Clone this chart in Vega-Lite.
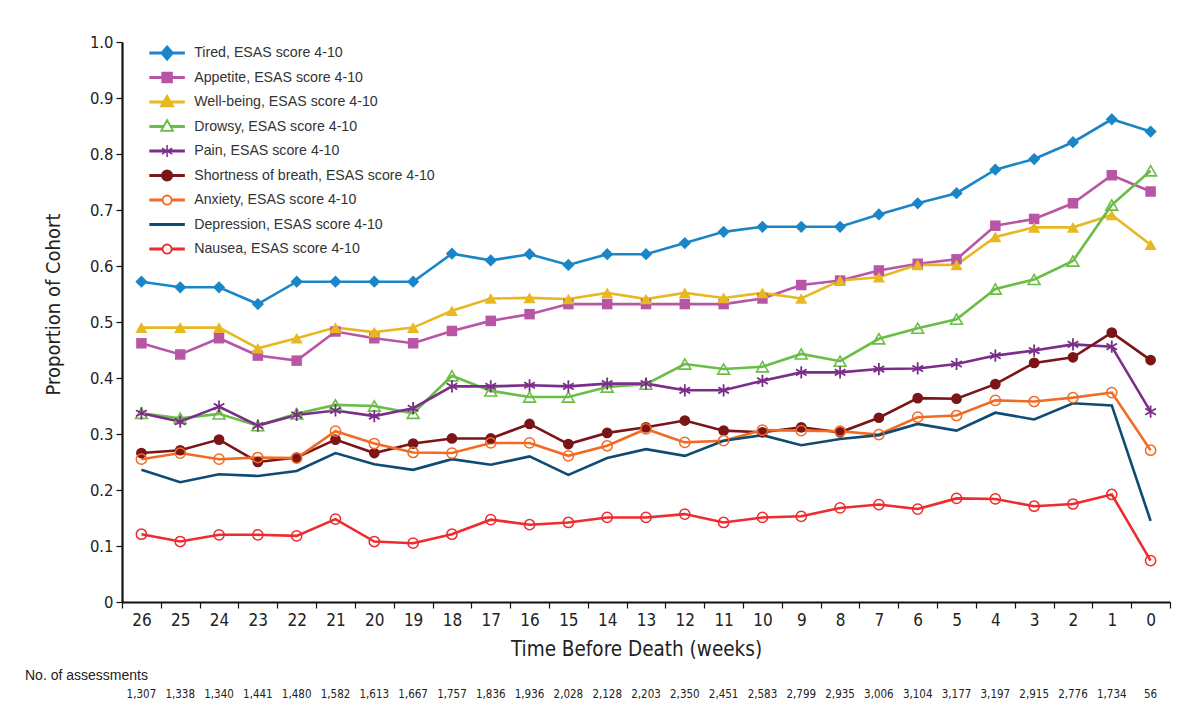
{
  "$schema": "https://vega.github.io/schema/vega-lite/v6.json",
  "padding": {"left": 25, "top": 34, "right": 8, "bottom": 4},
  "background": "white",
  "spacing": 9,
  "config": {
    "view": {"stroke": null},
    "axis": {"labelFont": "DejaVu Sans Condensed, Roboto, sans-serif", "titleFont": "DejaVu Sans Condensed, Roboto, sans-serif", "labelColor": "#222", "titleColor": "#222", "titleFontWeight": "normal", "domainColor": "#111", "tickColor": "#111", "grid": false}
  },
  "datasets": {
    "symptoms": [
      {"series": "Tired, ESAS score 4-10", "week": 26, "value": 0.572},
      {"series": "Tired, ESAS score 4-10", "week": 25, "value": 0.562},
      {"series": "Tired, ESAS score 4-10", "week": 24, "value": 0.562},
      {"series": "Tired, ESAS score 4-10", "week": 23, "value": 0.532},
      {"series": "Tired, ESAS score 4-10", "week": 22, "value": 0.572},
      {"series": "Tired, ESAS score 4-10", "week": 21, "value": 0.572},
      {"series": "Tired, ESAS score 4-10", "week": 20, "value": 0.572},
      {"series": "Tired, ESAS score 4-10", "week": 19, "value": 0.572},
      {"series": "Tired, ESAS score 4-10", "week": 18, "value": 0.622},
      {"series": "Tired, ESAS score 4-10", "week": 17, "value": 0.61},
      {"series": "Tired, ESAS score 4-10", "week": 16, "value": 0.621},
      {"series": "Tired, ESAS score 4-10", "week": 15, "value": 0.602},
      {"series": "Tired, ESAS score 4-10", "week": 14, "value": 0.621},
      {"series": "Tired, ESAS score 4-10", "week": 13, "value": 0.621},
      {"series": "Tired, ESAS score 4-10", "week": 12, "value": 0.641},
      {"series": "Tired, ESAS score 4-10", "week": 11, "value": 0.661},
      {"series": "Tired, ESAS score 4-10", "week": 10, "value": 0.67},
      {"series": "Tired, ESAS score 4-10", "week": 9, "value": 0.67},
      {"series": "Tired, ESAS score 4-10", "week": 8, "value": 0.67},
      {"series": "Tired, ESAS score 4-10", "week": 7, "value": 0.692},
      {"series": "Tired, ESAS score 4-10", "week": 6, "value": 0.712},
      {"series": "Tired, ESAS score 4-10", "week": 5, "value": 0.73},
      {"series": "Tired, ESAS score 4-10", "week": 4, "value": 0.772},
      {"series": "Tired, ESAS score 4-10", "week": 3, "value": 0.791},
      {"series": "Tired, ESAS score 4-10", "week": 2, "value": 0.821},
      {"series": "Tired, ESAS score 4-10", "week": 1, "value": 0.862},
      {"series": "Tired, ESAS score 4-10", "week": 0, "value": 0.84},
      {"series": "Appetite, ESAS score 4-10", "week": 26, "value": 0.462},
      {"series": "Appetite, ESAS score 4-10", "week": 25, "value": 0.442},
      {"series": "Appetite, ESAS score 4-10", "week": 24, "value": 0.471},
      {"series": "Appetite, ESAS score 4-10", "week": 23, "value": 0.44},
      {"series": "Appetite, ESAS score 4-10", "week": 22, "value": 0.431},
      {"series": "Appetite, ESAS score 4-10", "week": 21, "value": 0.483},
      {"series": "Appetite, ESAS score 4-10", "week": 20, "value": 0.471},
      {"series": "Appetite, ESAS score 4-10", "week": 19, "value": 0.462},
      {"series": "Appetite, ESAS score 4-10", "week": 18, "value": 0.484},
      {"series": "Appetite, ESAS score 4-10", "week": 17, "value": 0.502},
      {"series": "Appetite, ESAS score 4-10", "week": 16, "value": 0.514},
      {"series": "Appetite, ESAS score 4-10", "week": 15, "value": 0.532},
      {"series": "Appetite, ESAS score 4-10", "week": 14, "value": 0.532},
      {"series": "Appetite, ESAS score 4-10", "week": 13, "value": 0.532},
      {"series": "Appetite, ESAS score 4-10", "week": 12, "value": 0.532},
      {"series": "Appetite, ESAS score 4-10", "week": 11, "value": 0.532},
      {"series": "Appetite, ESAS score 4-10", "week": 10, "value": 0.542},
      {"series": "Appetite, ESAS score 4-10", "week": 9, "value": 0.566},
      {"series": "Appetite, ESAS score 4-10", "week": 8, "value": 0.574},
      {"series": "Appetite, ESAS score 4-10", "week": 7, "value": 0.592},
      {"series": "Appetite, ESAS score 4-10", "week": 6, "value": 0.604},
      {"series": "Appetite, ESAS score 4-10", "week": 5, "value": 0.612},
      {"series": "Appetite, ESAS score 4-10", "week": 4, "value": 0.672},
      {"series": "Appetite, ESAS score 4-10", "week": 3, "value": 0.684},
      {"series": "Appetite, ESAS score 4-10", "week": 2, "value": 0.712},
      {"series": "Appetite, ESAS score 4-10", "week": 1, "value": 0.762},
      {"series": "Appetite, ESAS score 4-10", "week": 0, "value": 0.733},
      {"series": "Well-being, ESAS score 4-10", "week": 26, "value": 0.49},
      {"series": "Well-being, ESAS score 4-10", "week": 25, "value": 0.49},
      {"series": "Well-being, ESAS score 4-10", "week": 24, "value": 0.49},
      {"series": "Well-being, ESAS score 4-10", "week": 23, "value": 0.453},
      {"series": "Well-being, ESAS score 4-10", "week": 22, "value": 0.471},
      {"series": "Well-being, ESAS score 4-10", "week": 21, "value": 0.49},
      {"series": "Well-being, ESAS score 4-10", "week": 20, "value": 0.482},
      {"series": "Well-being, ESAS score 4-10", "week": 19, "value": 0.49},
      {"series": "Well-being, ESAS score 4-10", "week": 18, "value": 0.52},
      {"series": "Well-being, ESAS score 4-10", "week": 17, "value": 0.542},
      {"series": "Well-being, ESAS score 4-10", "week": 16, "value": 0.543},
      {"series": "Well-being, ESAS score 4-10", "week": 15, "value": 0.541},
      {"series": "Well-being, ESAS score 4-10", "week": 14, "value": 0.552},
      {"series": "Well-being, ESAS score 4-10", "week": 13, "value": 0.541},
      {"series": "Well-being, ESAS score 4-10", "week": 12, "value": 0.552},
      {"series": "Well-being, ESAS score 4-10", "week": 11, "value": 0.543},
      {"series": "Well-being, ESAS score 4-10", "week": 10, "value": 0.552},
      {"series": "Well-being, ESAS score 4-10", "week": 9, "value": 0.542},
      {"series": "Well-being, ESAS score 4-10", "week": 8, "value": 0.574},
      {"series": "Well-being, ESAS score 4-10", "week": 7, "value": 0.58},
      {"series": "Well-being, ESAS score 4-10", "week": 6, "value": 0.602},
      {"series": "Well-being, ESAS score 4-10", "week": 5, "value": 0.602},
      {"series": "Well-being, ESAS score 4-10", "week": 4, "value": 0.652},
      {"series": "Well-being, ESAS score 4-10", "week": 3, "value": 0.669},
      {"series": "Well-being, ESAS score 4-10", "week": 2, "value": 0.669},
      {"series": "Well-being, ESAS score 4-10", "week": 1, "value": 0.691},
      {"series": "Well-being, ESAS score 4-10", "week": 0, "value": 0.638},
      {"series": "Drowsy, ESAS score 4-10", "week": 26, "value": 0.337},
      {"series": "Drowsy, ESAS score 4-10", "week": 25, "value": 0.328},
      {"series": "Drowsy, ESAS score 4-10", "week": 24, "value": 0.336},
      {"series": "Drowsy, ESAS score 4-10", "week": 23, "value": 0.315},
      {"series": "Drowsy, ESAS score 4-10", "week": 22, "value": 0.336},
      {"series": "Drowsy, ESAS score 4-10", "week": 21, "value": 0.352},
      {"series": "Drowsy, ESAS score 4-10", "week": 20, "value": 0.35},
      {"series": "Drowsy, ESAS score 4-10", "week": 19, "value": 0.337},
      {"series": "Drowsy, ESAS score 4-10", "week": 18, "value": 0.404},
      {"series": "Drowsy, ESAS score 4-10", "week": 17, "value": 0.377},
      {"series": "Drowsy, ESAS score 4-10", "week": 16, "value": 0.366},
      {"series": "Drowsy, ESAS score 4-10", "week": 15, "value": 0.366},
      {"series": "Drowsy, ESAS score 4-10", "week": 14, "value": 0.384},
      {"series": "Drowsy, ESAS score 4-10", "week": 13, "value": 0.389},
      {"series": "Drowsy, ESAS score 4-10", "week": 12, "value": 0.425},
      {"series": "Drowsy, ESAS score 4-10", "week": 11, "value": 0.416},
      {"series": "Drowsy, ESAS score 4-10", "week": 10, "value": 0.42},
      {"series": "Drowsy, ESAS score 4-10", "week": 9, "value": 0.443},
      {"series": "Drowsy, ESAS score 4-10", "week": 8, "value": 0.43},
      {"series": "Drowsy, ESAS score 4-10", "week": 7, "value": 0.47},
      {"series": "Drowsy, ESAS score 4-10", "week": 6, "value": 0.489},
      {"series": "Drowsy, ESAS score 4-10", "week": 5, "value": 0.505},
      {"series": "Drowsy, ESAS score 4-10", "week": 4, "value": 0.559},
      {"series": "Drowsy, ESAS score 4-10", "week": 3, "value": 0.576},
      {"series": "Drowsy, ESAS score 4-10", "week": 2, "value": 0.609},
      {"series": "Drowsy, ESAS score 4-10", "week": 1, "value": 0.709},
      {"series": "Drowsy, ESAS score 4-10", "week": 0, "value": 0.77},
      {"series": "Pain, ESAS score 4-10", "week": 26, "value": 0.337},
      {"series": "Pain, ESAS score 4-10", "week": 25, "value": 0.322},
      {"series": "Pain, ESAS score 4-10", "week": 24, "value": 0.349},
      {"series": "Pain, ESAS score 4-10", "week": 23, "value": 0.315},
      {"series": "Pain, ESAS score 4-10", "week": 22, "value": 0.334},
      {"series": "Pain, ESAS score 4-10", "week": 21, "value": 0.342},
      {"series": "Pain, ESAS score 4-10", "week": 20, "value": 0.332},
      {"series": "Pain, ESAS score 4-10", "week": 19, "value": 0.346},
      {"series": "Pain, ESAS score 4-10", "week": 18, "value": 0.385},
      {"series": "Pain, ESAS score 4-10", "week": 17, "value": 0.385},
      {"series": "Pain, ESAS score 4-10", "week": 16, "value": 0.387},
      {"series": "Pain, ESAS score 4-10", "week": 15, "value": 0.385},
      {"series": "Pain, ESAS score 4-10", "week": 14, "value": 0.39},
      {"series": "Pain, ESAS score 4-10", "week": 13, "value": 0.39},
      {"series": "Pain, ESAS score 4-10", "week": 12, "value": 0.378},
      {"series": "Pain, ESAS score 4-10", "week": 11, "value": 0.378},
      {"series": "Pain, ESAS score 4-10", "week": 10, "value": 0.395},
      {"series": "Pain, ESAS score 4-10", "week": 9, "value": 0.41},
      {"series": "Pain, ESAS score 4-10", "week": 8, "value": 0.41},
      {"series": "Pain, ESAS score 4-10", "week": 7, "value": 0.416},
      {"series": "Pain, ESAS score 4-10", "week": 6, "value": 0.417},
      {"series": "Pain, ESAS score 4-10", "week": 5, "value": 0.425},
      {"series": "Pain, ESAS score 4-10", "week": 4, "value": 0.44},
      {"series": "Pain, ESAS score 4-10", "week": 3, "value": 0.449},
      {"series": "Pain, ESAS score 4-10", "week": 2, "value": 0.46},
      {"series": "Pain, ESAS score 4-10", "week": 1, "value": 0.456},
      {"series": "Pain, ESAS score 4-10", "week": 0, "value": 0.34},
      {"series": "Shortness of breath, ESAS score 4-10", "week": 26, "value": 0.266},
      {"series": "Shortness of breath, ESAS score 4-10", "week": 25, "value": 0.271},
      {"series": "Shortness of breath, ESAS score 4-10", "week": 24, "value": 0.29},
      {"series": "Shortness of breath, ESAS score 4-10", "week": 23, "value": 0.25},
      {"series": "Shortness of breath, ESAS score 4-10", "week": 22, "value": 0.258},
      {"series": "Shortness of breath, ESAS score 4-10", "week": 21, "value": 0.29},
      {"series": "Shortness of breath, ESAS score 4-10", "week": 20, "value": 0.266},
      {"series": "Shortness of breath, ESAS score 4-10", "week": 19, "value": 0.283},
      {"series": "Shortness of breath, ESAS score 4-10", "week": 18, "value": 0.292},
      {"series": "Shortness of breath, ESAS score 4-10", "week": 17, "value": 0.292},
      {"series": "Shortness of breath, ESAS score 4-10", "week": 16, "value": 0.318},
      {"series": "Shortness of breath, ESAS score 4-10", "week": 15, "value": 0.282},
      {"series": "Shortness of breath, ESAS score 4-10", "week": 14, "value": 0.302},
      {"series": "Shortness of breath, ESAS score 4-10", "week": 13, "value": 0.312},
      {"series": "Shortness of breath, ESAS score 4-10", "week": 12, "value": 0.324},
      {"series": "Shortness of breath, ESAS score 4-10", "week": 11, "value": 0.306},
      {"series": "Shortness of breath, ESAS score 4-10", "week": 10, "value": 0.303},
      {"series": "Shortness of breath, ESAS score 4-10", "week": 9, "value": 0.312},
      {"series": "Shortness of breath, ESAS score 4-10", "week": 8, "value": 0.303},
      {"series": "Shortness of breath, ESAS score 4-10", "week": 7, "value": 0.329},
      {"series": "Shortness of breath, ESAS score 4-10", "week": 6, "value": 0.364},
      {"series": "Shortness of breath, ESAS score 4-10", "week": 5, "value": 0.363},
      {"series": "Shortness of breath, ESAS score 4-10", "week": 4, "value": 0.389},
      {"series": "Shortness of breath, ESAS score 4-10", "week": 3, "value": 0.427},
      {"series": "Shortness of breath, ESAS score 4-10", "week": 2, "value": 0.437},
      {"series": "Shortness of breath, ESAS score 4-10", "week": 1, "value": 0.481},
      {"series": "Shortness of breath, ESAS score 4-10", "week": 0, "value": 0.432},
      {"series": "Anxiety, ESAS score 4-10", "week": 26, "value": 0.255},
      {"series": "Anxiety, ESAS score 4-10", "week": 25, "value": 0.266},
      {"series": "Anxiety, ESAS score 4-10", "week": 24, "value": 0.255},
      {"series": "Anxiety, ESAS score 4-10", "week": 23, "value": 0.258},
      {"series": "Anxiety, ESAS score 4-10", "week": 22, "value": 0.257},
      {"series": "Anxiety, ESAS score 4-10", "week": 21, "value": 0.305},
      {"series": "Anxiety, ESAS score 4-10", "week": 20, "value": 0.283},
      {"series": "Anxiety, ESAS score 4-10", "week": 19, "value": 0.267},
      {"series": "Anxiety, ESAS score 4-10", "week": 18, "value": 0.266},
      {"series": "Anxiety, ESAS score 4-10", "week": 17, "value": 0.284},
      {"series": "Anxiety, ESAS score 4-10", "week": 16, "value": 0.284},
      {"series": "Anxiety, ESAS score 4-10", "week": 15, "value": 0.261},
      {"series": "Anxiety, ESAS score 4-10", "week": 14, "value": 0.279},
      {"series": "Anxiety, ESAS score 4-10", "week": 13, "value": 0.309},
      {"series": "Anxiety, ESAS score 4-10", "week": 12, "value": 0.285},
      {"series": "Anxiety, ESAS score 4-10", "week": 11, "value": 0.288},
      {"series": "Anxiety, ESAS score 4-10", "week": 10, "value": 0.307},
      {"series": "Anxiety, ESAS score 4-10", "week": 9, "value": 0.306},
      {"series": "Anxiety, ESAS score 4-10", "week": 8, "value": 0.305},
      {"series": "Anxiety, ESAS score 4-10", "week": 7, "value": 0.299},
      {"series": "Anxiety, ESAS score 4-10", "week": 6, "value": 0.33},
      {"series": "Anxiety, ESAS score 4-10", "week": 5, "value": 0.333},
      {"series": "Anxiety, ESAS score 4-10", "week": 4, "value": 0.36},
      {"series": "Anxiety, ESAS score 4-10", "week": 3, "value": 0.358},
      {"series": "Anxiety, ESAS score 4-10", "week": 2, "value": 0.365},
      {"series": "Anxiety, ESAS score 4-10", "week": 1, "value": 0.374},
      {"series": "Anxiety, ESAS score 4-10", "week": 0, "value": 0.271},
      {"series": "Depression, ESAS score 4-10", "week": 26, "value": 0.236},
      {"series": "Depression, ESAS score 4-10", "week": 25, "value": 0.214},
      {"series": "Depression, ESAS score 4-10", "week": 24, "value": 0.228},
      {"series": "Depression, ESAS score 4-10", "week": 23, "value": 0.225},
      {"series": "Depression, ESAS score 4-10", "week": 22, "value": 0.234},
      {"series": "Depression, ESAS score 4-10", "week": 21, "value": 0.266},
      {"series": "Depression, ESAS score 4-10", "week": 20, "value": 0.246},
      {"series": "Depression, ESAS score 4-10", "week": 19, "value": 0.236},
      {"series": "Depression, ESAS score 4-10", "week": 18, "value": 0.255},
      {"series": "Depression, ESAS score 4-10", "week": 17, "value": 0.245},
      {"series": "Depression, ESAS score 4-10", "week": 16, "value": 0.26},
      {"series": "Depression, ESAS score 4-10", "week": 15, "value": 0.227},
      {"series": "Depression, ESAS score 4-10", "week": 14, "value": 0.257},
      {"series": "Depression, ESAS score 4-10", "week": 13, "value": 0.273},
      {"series": "Depression, ESAS score 4-10", "week": 12, "value": 0.261},
      {"series": "Depression, ESAS score 4-10", "week": 11, "value": 0.288},
      {"series": "Depression, ESAS score 4-10", "week": 10, "value": 0.298},
      {"series": "Depression, ESAS score 4-10", "week": 9, "value": 0.28},
      {"series": "Depression, ESAS score 4-10", "week": 8, "value": 0.291},
      {"series": "Depression, ESAS score 4-10", "week": 7, "value": 0.298},
      {"series": "Depression, ESAS score 4-10", "week": 6, "value": 0.318},
      {"series": "Depression, ESAS score 4-10", "week": 5, "value": 0.306},
      {"series": "Depression, ESAS score 4-10", "week": 4, "value": 0.338},
      {"series": "Depression, ESAS score 4-10", "week": 3, "value": 0.326},
      {"series": "Depression, ESAS score 4-10", "week": 2, "value": 0.355},
      {"series": "Depression, ESAS score 4-10", "week": 1, "value": 0.351},
      {"series": "Depression, ESAS score 4-10", "week": 0, "value": 0.145},
      {"series": "Nausea, ESAS score 4-10", "week": 26, "value": 0.121},
      {"series": "Nausea, ESAS score 4-10", "week": 25, "value": 0.108},
      {"series": "Nausea, ESAS score 4-10", "week": 24, "value": 0.12},
      {"series": "Nausea, ESAS score 4-10", "week": 23, "value": 0.12},
      {"series": "Nausea, ESAS score 4-10", "week": 22, "value": 0.118},
      {"series": "Nausea, ESAS score 4-10", "week": 21, "value": 0.148},
      {"series": "Nausea, ESAS score 4-10", "week": 20, "value": 0.108},
      {"series": "Nausea, ESAS score 4-10", "week": 19, "value": 0.105},
      {"series": "Nausea, ESAS score 4-10", "week": 18, "value": 0.121},
      {"series": "Nausea, ESAS score 4-10", "week": 17, "value": 0.147},
      {"series": "Nausea, ESAS score 4-10", "week": 16, "value": 0.138},
      {"series": "Nausea, ESAS score 4-10", "week": 15, "value": 0.142},
      {"series": "Nausea, ESAS score 4-10", "week": 14, "value": 0.151},
      {"series": "Nausea, ESAS score 4-10", "week": 13, "value": 0.151},
      {"series": "Nausea, ESAS score 4-10", "week": 12, "value": 0.157},
      {"series": "Nausea, ESAS score 4-10", "week": 11, "value": 0.142},
      {"series": "Nausea, ESAS score 4-10", "week": 10, "value": 0.151},
      {"series": "Nausea, ESAS score 4-10", "week": 9, "value": 0.153},
      {"series": "Nausea, ESAS score 4-10", "week": 8, "value": 0.168},
      {"series": "Nausea, ESAS score 4-10", "week": 7, "value": 0.174},
      {"series": "Nausea, ESAS score 4-10", "week": 6, "value": 0.166},
      {"series": "Nausea, ESAS score 4-10", "week": 5, "value": 0.185},
      {"series": "Nausea, ESAS score 4-10", "week": 4, "value": 0.184},
      {"series": "Nausea, ESAS score 4-10", "week": 3, "value": 0.171},
      {"series": "Nausea, ESAS score 4-10", "week": 2, "value": 0.175},
      {"series": "Nausea, ESAS score 4-10", "week": 1, "value": 0.192},
      {"series": "Nausea, ESAS score 4-10", "week": 0, "value": 0.074}
    ],
    "assessments": [
      {"week": 26, "n": 1307}, {"week": 25, "n": 1338}, {"week": 24, "n": 1340}, {"week": 23, "n": 1441},
      {"week": 22, "n": 1480}, {"week": 21, "n": 1582}, {"week": 20, "n": 1613}, {"week": 19, "n": 1667},
      {"week": 18, "n": 1757}, {"week": 17, "n": 1836}, {"week": 16, "n": 1936}, {"week": 15, "n": 2028},
      {"week": 14, "n": 2128}, {"week": 13, "n": 2203}, {"week": 12, "n": 2350}, {"week": 11, "n": 2451},
      {"week": 10, "n": 2583}, {"week": 9, "n": 2799}, {"week": 8, "n": 2935}, {"week": 7, "n": 3006},
      {"week": 6, "n": 3104}, {"week": 5, "n": 3177}, {"week": 4, "n": 3197}, {"week": 3, "n": 2915},
      {"week": 2, "n": 2776}, {"week": 1, "n": 1734}, {"week": 0, "n": 56}
    ]
  },
  "vconcat": [
    {
      "width": 1048,
      "height": 560,
      "data": {"name": "symptoms"},
      "encoding": {
        "x": {
          "field": "week", "type": "ordinal",
          "scale": {"type": "band", "domain": [26,25,24,23,22,21,20,19,18,17,16,15,14,13,12,11,10,9,8,7,6,5,4,3,2,1,0], "paddingInner": 0, "paddingOuter": 0},
          "axis": {"title": "Time Before Death (weeks)", "titleFontSize": 20.5, "titlePadding": 11, "titleX": 514, "labelFontSize": 17, "labelAngle": 0, "labelPadding": 4, "tickBand": "extent", "tickSize": 6, "tickWidth": 1.2, "domainWidth": 2}
        },
        "y": {
          "field": "value", "type": "quantitative",
          "scale": {"domain": [0, 1], "nice": false},
          "axis": {"title": "Proportion of Cohort", "titleFontSize": 20, "titlePadding": 26, "titleY": 262, "labelFontSize": 16.5, "labelPadding": 3, "tickSize": 6, "tickWidth": 1.2, "domainWidth": 2.2, "values": [0, 0.1, 0.2, 0.3, 0.4, 0.5, 0.6, 0.7, 0.8, 0.9, 1.0], "labelExpr": "datum.value === 0 ? '0' : format(datum.value, '.1f')"}
        },
        "color": {
          "field": "series", "type": "nominal",
          "scale": {
            "domain": ["Tired, ESAS score 4-10", "Appetite, ESAS score 4-10", "Well-being, ESAS score 4-10", "Drowsy, ESAS score 4-10", "Pain, ESAS score 4-10", "Shortness of breath, ESAS score 4-10", "Anxiety, ESAS score 4-10", "Depression, ESAS score 4-10", "Nausea, ESAS score 4-10"],
            "range": ["#1a86c8", "#b955a5", "#e8b823", "#6abd45", "#7a2e8a", "#7b1517", "#f26b25", "#0f4a73", "#ee2b2e"]
          },
          "legend": {
            "orient": "none", "legendX": 38, "legendY": 4, "title": null, "padding": 0,
            "labelFont": "Liberation Sans", "labelFontSize": 14.2, "labelColor": "#333", "labelLimit": 400,
            "labelOffset": 20, "rowPadding": 0.5, "symbolSize": 100,
            "encode": {
              "symbols": {
                "update": {
                  "shape": {"signal": "['M0,-1.65L0,-1.65M0,1.65L0,1.65M-3.4,-0.15H3.4V0.15H-3.4ZM0,-1.4L1.2,0L0,1.4L-1.2,0Z', 'M0,-1.65L0,-1.65M0,1.65L0,1.65M-3.4,-0.15H3.4V0.15H-3.4ZM-1,-1H1V1H-1Z', 'M0,-1.65L0,-1.65M0,1.65L0,1.65M-3.4,-0.15H3.4V0.15H-3.4ZM0,-1.35L1.3,0.9H-1.3Z', 'M0,-1.65L0,-1.65M0,1.65L0,1.65M-3.4,-0.15H-0.7V0.15H-3.4ZM0.7,-0.15H3.4V0.15H0.7ZM0,-1.35L1.25,0.9H-1.25ZM0,-1.2L-1.125,0.825H1.125Z', 'M0,-1.65L0,-1.65M0,1.65L0,1.65M-3.4,-0.15H3.4V0.15H-3.4ZM0,-1.2V1.2M-1.04,-0.6L1.04,0.6M-1.04,0.6L1.04,-0.6', 'M0,-1.65L0,-1.65M0,1.65L0,1.65M-3.4,-0.15H3.4V0.15H-3.4ZM-1.05,0A1.05,1.05 0 1,1 1.05,0A1.05,1.05 0 1,1 -1.05,0Z', 'M0,-1.65L0,-1.65M0,1.65L0,1.65M-3.4,-0.15H-0.95V0.15H-3.4ZM0.95,-0.15H3.4V0.15H0.95ZM-0.95,0A0.95,0.95 0 1,1 0.95,0A0.95,0.95 0 1,1 -0.95,0ZM-0.87,0A0.87,0.87 0 1,0 0.87,0A0.87,0.87 0 1,0 -0.87,0Z', 'M0,-1.65L0,-1.65M0,1.65L0,1.65M-3.4,-0.15H3.4V0.15H-3.4Z', 'M0,-1.65L0,-1.65M0,1.65L0,1.65M-3.4,-0.15H-0.95V0.15H-3.4ZM0.95,-0.15H3.4V0.15H0.95ZM-0.95,0A0.95,0.95 0 1,1 0.95,0A0.95,0.95 0 1,1 -0.95,0ZM-0.87,0A0.87,0.87 0 1,0 0.87,0A0.87,0.87 0 1,0 -0.87,0Z'][indexof(['Tired, ESAS score 4-10', 'Appetite, ESAS score 4-10', 'Well-being, ESAS score 4-10', 'Drowsy, ESAS score 4-10', 'Pain, ESAS score 4-10', 'Shortness of breath, ESAS score 4-10', 'Anxiety, ESAS score 4-10', 'Depression, ESAS score 4-10', 'Nausea, ESAS score 4-10'], datum.value)]"},
                  "stroke": {"signal": "['#1a86c8', '#b955a5', '#e8b823', '#6abd45', '#7a2e8a', '#7b1517', '#f26b25', '#0f4a73', '#ee2b2e'][indexof(['Tired, ESAS score 4-10', 'Appetite, ESAS score 4-10', 'Well-being, ESAS score 4-10', 'Drowsy, ESAS score 4-10', 'Pain, ESAS score 4-10', 'Shortness of breath, ESAS score 4-10', 'Anxiety, ESAS score 4-10', 'Depression, ESAS score 4-10', 'Nausea, ESAS score 4-10'], datum.value)]"},
                  "fill": {"signal": "['#1a86c8', '#b955a5', '#e8b823', '#6abd45', '#7a2e8a', '#7b1517', '#f26b25', '#0f4a73', '#ee2b2e'][indexof(['Tired, ESAS score 4-10', 'Appetite, ESAS score 4-10', 'Well-being, ESAS score 4-10', 'Drowsy, ESAS score 4-10', 'Pain, ESAS score 4-10', 'Shortness of breath, ESAS score 4-10', 'Anxiety, ESAS score 4-10', 'Depression, ESAS score 4-10', 'Nausea, ESAS score 4-10'], datum.value)]"},
                  "strokeWidth": {"value": 1.5},
                  "opacity": {"value": 1},
                  "fillOpacity": {"value": 1},
                  "strokeOpacity": {"value": 1},
                  "size": {"value": 100}
                }
              }
            }
          }
        }
      },
      "layer": [
        {"mark": {"type": "line", "strokeWidth": 2.6}},
        {"transform": [{"filter": {"field": "series", "equal": "Tired, ESAS score 4-10"}}], "mark": {"type": "point", "shape": "diamond", "filled": true, "size": 150, "opacity": 1}},
        {"transform": [{"filter": {"field": "series", "equal": "Appetite, ESAS score 4-10"}}], "mark": {"type": "point", "shape": "square", "filled": true, "size": 110, "opacity": 1}},
        {"transform": [{"filter": {"field": "series", "equal": "Well-being, ESAS score 4-10"}}], "mark": {"type": "point", "shape": "triangle-up", "filled": true, "size": 150, "opacity": 1}},
        {"transform": [{"filter": {"field": "series", "equal": "Drowsy, ESAS score 4-10"}}], "mark": {"type": "point", "shape": "triangle-up", "filled": false, "size": 140, "strokeWidth": 1.6, "opacity": 1}},
        {"transform": [{"filter": {"field": "series", "equal": "Pain, ESAS score 4-10"}}], "mark": {"type": "point", "shape": "M0,-1V1M-0.87,-0.5L0.87,0.5M-0.87,0.5L0.87,-0.5", "filled": false, "size": 150, "strokeWidth": 1.8, "opacity": 1}},
        {"transform": [{"filter": {"field": "series", "equal": "Shortness of breath, ESAS score 4-10"}}], "mark": {"type": "point", "shape": "circle", "filled": true, "size": 115, "opacity": 1}},
        {"transform": [{"filter": {"field": "series", "equal": "Anxiety, ESAS score 4-10"}}], "mark": {"type": "point", "shape": "circle", "filled": false, "size": 105, "strokeWidth": 1.5, "opacity": 1}},
        {"transform": [{"filter": {"field": "series", "equal": "Nausea, ESAS score 4-10"}}], "mark": {"type": "point", "shape": "circle", "filled": false, "size": 105, "strokeWidth": 1.5, "opacity": 1}}
      ]
    },
    {
      "width": 1048,
      "height": 16,
      "data": {"name": "assessments"},
      "title": {"text": "No. of assessments", "anchor": "start", "frame": "group", "dx": -97, "fontSize": 14, "fontWeight": "normal", "font": "Liberation Sans", "color": "#222", "offset": 4},
      "mark": {"type": "text", "font": "DejaVu Sans Condensed, Roboto, sans-serif", "fontSize": 11.5, "color": "#222", "baseline": "middle"},
      "encoding": {
        "x": {
          "field": "week", "type": "ordinal",
          "scale": {"type": "band", "domain": [26,25,24,23,22,21,20,19,18,17,16,15,14,13,12,11,10,9,8,7,6,5,4,3,2,1,0], "paddingInner": 0, "paddingOuter": 0},
          "axis": null
        },
        "text": {"field": "n", "type": "quantitative", "format": ","}
      }
    }
  ]
}
